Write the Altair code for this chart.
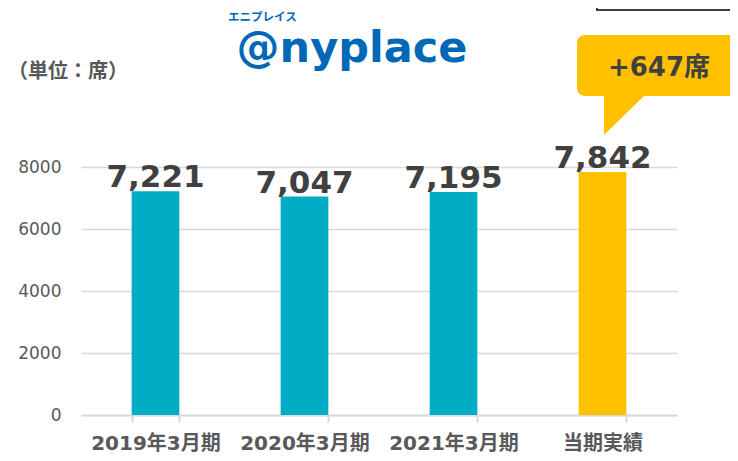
import altair as alt
import pandas as pd

# ---- data ----
periods = ["2019年3月期", "2020年3月期", "2021年3月期", "当期実績"]
seats = [7221, 7047, 7195, 7842]
kinds = ["past", "past", "past", "current"]
y_ticks = [0, 2000, 4000, 6000, 8000]
unit_label = "（単位：席）"
logo_kana = "エニプレイス"
logo_text = "@nyplace"
callout_text = "+647席"

df = pd.DataFrame({"period": periods, "seats": seats, "kind": kinds})

NUM_FONT = "DejaVu Sans, Noto Sans CJK JP, sans-serif"
JP_FONT = "Noto Sans CJK JP, sans-serif"

x_enc = alt.X(
    "period:N",
    sort=periods,
    scale=alt.Scale(paddingInner=0.68, paddingOuter=0.34),
    axis=alt.Axis(
        title=None,
        labelAngle=0,
        tickBand="extent",
        tickSize=7,
        tickColor="#d9d9d9",
        tickWidth=2,
        domainColor="#d9d9d9",
        domainWidth=2,
        labelFont=NUM_FONT,
        labelFontSize=20,
        labelFontWeight="bold",
        labelColor="#595959",
        labelBaseline="middle",
        labelPadding=21,
        grid=False,
    ),
)
y_enc = alt.Y(
    "seats:Q",
    scale=alt.Scale(domain=[0, 8000], nice=False),
    axis=alt.Axis(
        title=None,
        values=y_ticks,
        format="d",
        grid=True,
        gridColor="#d9d9d9",
        gridWidth=1.5,
        domain=False,
        ticks=False,
        labelPadding=20,
        labelFont="DejaVu Sans",
        labelFontSize=17,
        labelColor="#595959",
    ),
)

base = alt.Chart(df)

bars = base.mark_bar().encode(
    x=x_enc,
    y=y_enc,
    color=alt.Color(
        "kind:N",
        scale=alt.Scale(domain=["past", "current"], range=["#00ADC5", "#FFC000"]),
        legend=None,
    ),
)

labels = base.mark_text(
    baseline="alphabetic", dy=-4, font="DejaVu Sans", fontSize=31, fontWeight="bold", color="#404040"
).encode(
    x=alt.X("period:N", sort=periods),
    y=alt.Y("seats:Q"),
    text=alt.Text("seats:Q", format=","),
)

one = alt.Data(values=[{"a": 1}])

unit = alt.Chart(one).mark_text(
    align="left", baseline="middle", font=JP_FONT, fontSize=20, fontWeight="bold", color="#595959",
    text=unit_label,
).encode(x=alt.value(-73), y=alt.value(-95))

kana = alt.Chart(one).mark_text(
    align="left", baseline="alphabetic", font=JP_FONT, fontSize=11.5, fontWeight="bold", color="#0068B7",
    text=logo_kana,
).encode(x=alt.value(147), y=alt.value(-146))

logo = alt.Chart(one).mark_text(
    align="center", baseline="alphabetic", font="DejaVu Sans", fontSize=43, fontWeight="bold", color="#0068B7",
    text=logo_text,
).encode(x=alt.value(271), y=alt.value(-105))

box = alt.Chart(one).mark_rect(
    fill="white", stroke="#404040", strokeWidth=2
).encode(x=alt.value(516), x2=alt.value(690), y=alt.value(-190), y2=alt.value(-157))

callout = alt.Chart(one).mark_rect(
    fill="#FFC000", cornerRadius=8
).encode(x=alt.value(496), x2=alt.value(690), y=alt.value(-132), y2=alt.value(-71))

pointer = alt.Chart(one).mark_point(
    shape="M0,0 L1.025,0 L0,1 Z", filled=True, fill="#FFC000", opacity=1, strokeWidth=0, size=6400
).encode(x=alt.value(523), y=alt.value(-72))

callout_lbl = alt.Chart(one).mark_text(
    align="center", baseline="middle", font=NUM_FONT, fontSize=26, fontWeight="bold", color="#404040",
    text=callout_text,
).encode(x=alt.value(578), y=alt.value(-99))

chart = alt.layer(
    bars, labels, unit, kana, logo, box, callout, pointer, callout_lbl
).properties(
    width=596,
    height=248,
    autosize=alt.AutoSizeParams(type="none"),
    padding={"left": 73, "top": 159, "right": 53, "bottom": 38},
    background="white",
).configure_view(stroke=None)

chart.save("out.html", embed_options={"renderer": "svg", "actions": False})
